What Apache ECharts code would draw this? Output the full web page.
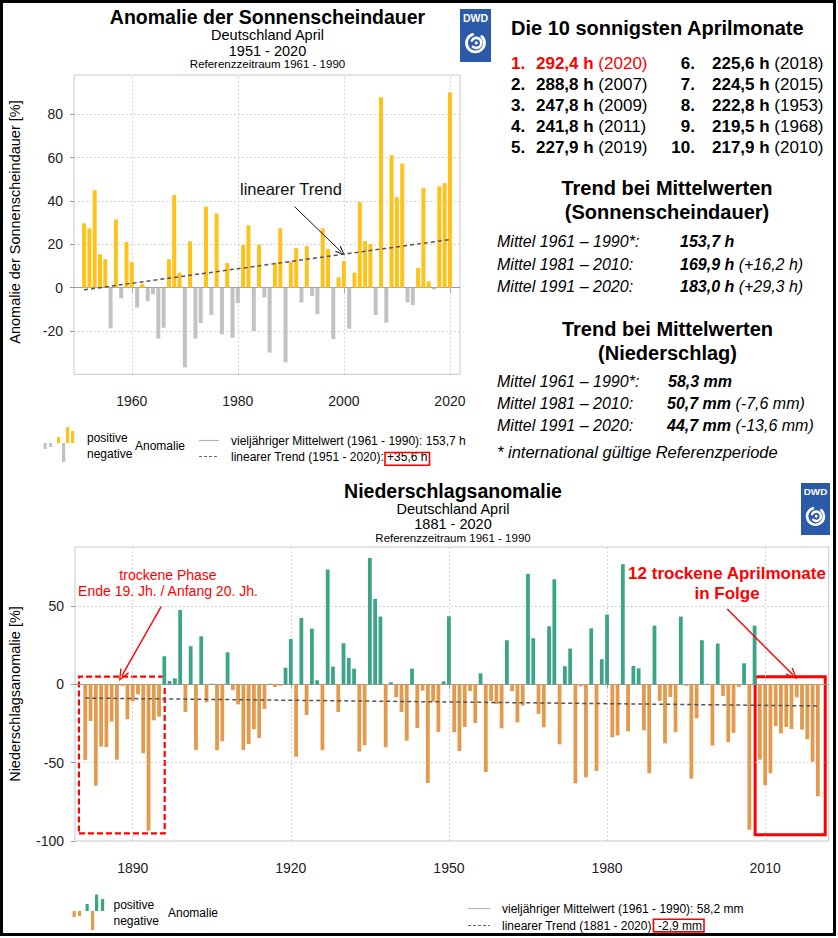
<!DOCTYPE html>
<html><head><meta charset="utf-8">
<script src="https://cdn.jsdelivr.net/npm/echarts@6/dist/echarts.min.js"></script>
<style>html,body{margin:0;padding:0;background:#fff}#c{width:838px;height:938px}</style>
</head><body><div id="c"></div>
<script>
// ---------- data ----------
const sunStartYear = 1951;
const sunAnomaly = [
  29.7, 27.4, 45.0, 15.4, 13.1, -18.8, 31.5, -4.9, 21.1, 11.8,
  -9.2, 1.7, -6.2, -3.1, -23.5, -18.5, 13.1, 42.8, 6.9, -36.8,
  21.4, -23.5, -16.3, 37.4, -12.6, 34.2, -21.5, 11.4, -23.1, -7.2,
  19.8, 28.8, -20.0, 19.8, -4.5, -30.0, 11.5, 27.4, -34.5, 12.0,
  18.2, -6.9, 19.2, -3.8, -12.3, 27.4, 17.8, -23.7, 4.8, 12.3,
  -18.9, 6.9, 39.5, 21.5, 20.2, -12.6, 87.9, -16.2, 61.2, 41.8,
  57.3, -6.8, -8.0, 9.2, 46.1, 2.9, -0.8, 46.8, 48.3, 90.2
];
const sunTrendEnds = [-1.0, 22.2];          // trend value at first / last year
const sunXTicks = [1960, 1980, 2000, 2020];
const sunYTicks = [-20, 0, 20, 40, 60, 80];

const precStartYear = 1881;
const precAnomaly = [
  -48.3, -23.4, -64.7, -39.8, -40.0, -23.8, -48.1, -1.0, -22.3, -10.9,
  -6.4, -44.0, -93.4, -23.0, -20.6, 17.9, 2.1, 3.8, 47.4, -17.7,
  24.3, -41.9, 30.6, -11.5, 0.3, -42.1, -36.4, 20.4, -3.8, -12.8,
  -41.9, -38.1, -28.7, -34.3, -15.7, 0.3, -1.7, -0.9, 10.6, 28.9,
  -46.2, 42.3, -19.6, 35.5, 2.6, -42.1, 73.2, 11.3, -17.7, 26.2,
  16.8, 10.0, -43.0, -38.9, 80.6, 54.5, 43.2, -40.2, 1.3, -8.3,
  -17.7, -36.0, 10.0, -27.9, -4.0, -63.0, -11.1, -30.4, 1.9, 43.4,
  -30.6, -42.6, -27.2, -4.3, -24.7, 7.0, -56.0, -10.6, -12.6, -28.1,
  28.1, -4.3, -24.3, -13.6, 70.4, 29.4, -18.9, -27.4, 37.0, 67.0,
  -38.3, 11.5, 22.8, -63.2, -1.3, -59.4, 35.7, -55.3, 16.0, 44.5,
  -33.8, -32.6, 76.6, -30.0, 11.7, 10.2, -29.4, -56.8, 37.4, -10.6,
  -37.7, -8.1, -30.6, 43.2, -0.9, -60.2, -21.7, 28.1, 0.3, -39.1,
  26.0, -7.4, -37.0, -31.0, -1.7, 13.4, -92.8, 37.4, -48.1, -64.5,
  -56.8, -26.6, -31.3, -27.2, -28.5, -8.3, -28.9, -35.1, -49.4, -71.5
];
const precTrendEnds = [-8.8, -13.8];
const precXTicks = [1890, 1920, 1950, 1980, 2010];
const precYTicks = [-100, -50, 0, 50];

const top10Left = [
  ['1.', '292,4 h', '(2020)'], ['2.', '288,8 h', '(2007)'], ['3.', '247,8 h', '(2009)'],
  ['4.', '241,8 h', '(2011)'], ['5.', '227,9 h', '(2019)']
];
const top10Right = [
  ['6.', '225,6 h', '(2018)'], ['7.', '224,5 h', '(2015)'], ['8.', '222,8 h', '(1953)'],
  ['9.', '219,5 h', '(1968)'], ['10.', '217,9 h', '(2010)']
];
const sunMeans = [
  ['Mittel 1961 – 1990*:', '153,7 h', ''],
  ['Mittel 1981 – 2010:', '169,9 h', ' (+16,2 h)'],
  ['Mittel 1991 – 2020:', '183,0 h', ' (+29,3 h)']
];
const precMeans = [
  ['Mittel 1961 – 1990*:', '58,3 mm', ''],
  ['Mittel 1981 – 2010:', '50,7 mm', ' (-7,6 mm)'],
  ['Mittel 1991 – 2020:', '44,7 mm', ' (-13,6 mm)']
];

// ---------- styles ----------
const FONT = "'Liberation Sans', Arial, Helvetica, sans-serif";
const YELLOW = '#FFC21A', GRAY = '#C2C2C2', GREEN = '#3DA587', ORANGE = '#E39A4C', RED = '#FF0000';
const V_ARROW = 'path://M5,0 L10,10 L8.8,10.6 L5,2.6 L1.2,10.6 L0,10 Z';
const GRIDLINE = { color: '#c6c6c6', width: 1, type: [1.5, 2.5] };
const ZEROLINE = { color: '#9a9a9a', width: 1.2, type: 'solid' };

const sunData = sunAnomaly.map((v, i) => [sunStartYear + i, v]);
const precData = precAnomaly.map((v, i) => [precStartYear + i, v]);
const sunTrend = [[sunStartYear, sunTrendEnds[0]], [sunStartYear + sunAnomaly.length - 1, sunTrendEnds[1]]];
const precTrend = [[precStartYear, precTrendEnds[0]], [precStartYear + precAnomaly.length - 1, precTrendEnds[1]]];

function gridMarks(xt, yt) {
  const out = [];
  xt.forEach(v => out.push({ xAxis: v, lineStyle: GRIDLINE }));
  yt.filter(v => v !== 0).forEach(v => out.push({ yAxis: v, lineStyle: GRIDLINE }));
  out.push({ yAxis: 0, lineStyle: ZEROLINE });
  return out;
}

function T(x, y, text, o) {
  o = o || {};
  const st = {
    text: text, fontFamily: FONT, fontSize: o.size || 14, fontWeight: o.weight || 'normal',
    fontStyle: o.style || 'normal', fill: o.color || '#000',
    align: o.align || 'left', verticalAlign: o.va || 'middle'
  };
  if (o.rich) st.rich = o.rich;
  return { type: 'text', x: x, y: y, rotation: o.rotation || 0, z: 100, style: st };
}
function R(x, y, w, h, fill, stroke, lw, dash) {
  const st = { fill: fill || 'none' };
  if (stroke) { st.stroke = stroke; st.lineWidth = lw || 1; }
  if (dash) st.lineDash = dash;
  return { type: 'rect', z: 100, shape: { x: x, y: y, width: w, height: h }, style: st };
}
function L(x1, y1, x2, y2, color, lw, dash) {
  const st = { stroke: color, lineWidth: lw };
  if (dash) st.lineDash = dash;
  return { type: 'line', z: 100, shape: { x1: x1, y1: y1, x2: x2, y2: y2 }, style: st };
}
function logo(x, y, w, h) {
  const cx = x + w / 2, cy = y + h * 0.64, s = w / 31;
  return [
    R(x, y, w, h, '#2B5BA8'),
    T(cx, y + 8.5, 'DWD', { size: 10.5 * s, weight: 'bold', color: '#fff', align: 'center' }),
    { type: 'arc', z: 101, shape: { cx: cx, cy: cy, r: 9 * s, startAngle: -0.8, endAngle: 4.4, clockwise: true },
      style: { fill: 'none', stroke: '#fff', lineWidth: 2.8 * s, lineCap: 'round' } },
    { type: 'arc', z: 101, shape: { cx: cx + 0.8 * s, cy: cy, r: 5 * s, startAngle: 3.6, endAngle: 8.6, clockwise: true },
      style: { fill: 'none', stroke: '#fff', lineWidth: 2.6 * s, lineCap: 'round' } },
    { type: 'circle', z: 101, shape: { cx: cx + 0.8 * s, cy: cy, r: 1.6 * s }, style: { fill: '#fff' } }
  ];
}

const graphics = [];
// outer frame
graphics.push(R(1.5, 1.5, 833, 933, 'none', '#000', 3));

// ----- top chart header -----
graphics.push(T(267.5, 17, 'Anomalie der Sonnenscheindauer', { size: 19.5, weight: 'bold', align: 'center' }));
graphics.push(T(267.5, 34.5, 'Deutschland April', { size: 14.5, align: 'center' }));
graphics.push(T(267.5, 50.8, '1951 - 2020', { size: 14.5, align: 'center' }));
graphics.push(T(267.5, 64, 'Referenzzeitraum 1961 - 1990', { size: 11.5, align: 'center' }));
logo(460, 9, 31, 53).forEach(g => graphics.push(g));
graphics.push(T(15, 222, 'Anomalie der Sonnenscheindauer [%]', { size: 14.5, align: 'center', rotation: Math.PI / 2 }));
graphics.push(T(240, 189, 'linearer Trend', { size: 16.5, color: '#111' }));

// top legend
[[43.5, 443, 3.2, 6, GRAY], [49, 443, 3.2, 4, GRAY], [62, 443, 3.2, 19, GRAY]].forEach(b => graphics.push(R(b[0], b[1], b[2], b[3], b[4])));
[[57, 437, 3.2, 6, YELLOW], [66, 427, 3.2, 16, YELLOW], [71, 431, 3.2, 12, YELLOW]].forEach(b => graphics.push(R(b[0], b[1], b[2], b[3], b[4])));
graphics.push(T(87, 437.5, 'positive', { size: 12 }));
graphics.push(T(87, 454, 'negative', { size: 12 }));
graphics.push(T(135, 446, 'Anomalie', { size: 12 }));
graphics.push(L(199, 440.5, 219, 440.5, '#b5b5b5', 1.2));
graphics.push(L(199, 456.5, 219, 456.5, '#666', 1.2, [3, 2]));
graphics.push(T(231, 440.5, 'vieljähriger Mittelwert (1961 - 1990): 153,7 h', { size: 12 }));
graphics.push(T(231, 457, 'linearer Trend (1951 - 2020): +35,6 h', { size: 12 }));
graphics.push(R(385, 452.5, 44.5, 12.8, 'none', RED, 1.6));

// ----- right text panel -----
graphics.push(T(511, 27.5, 'Die 10 sonnigsten Aprilmonate', { size: 20, weight: 'bold' }));
top10Left.forEach((r, i) => {
  const c = i === 0 ? RED : '#000';
  const rich = { v: { fontFamily: FONT, fontSize: 17, fontWeight: 'bold', fill: c } };
  graphics.push(T(511, 63 + i * 21, r[0], { size: 17, weight: 'bold', color: c }));
  graphics.push(T(536, 63 + i * 21, '{v|' + r[1] + '} ' + r[2], { size: 17, color: c, rich: rich }));
});
top10Right.forEach((r, i) => {
  const rich = { v: { fontFamily: FONT, fontSize: 17, fontWeight: 'bold', fill: '#000' } };
  graphics.push(T(695, 63 + i * 21, r[0], { size: 17, weight: 'bold', align: 'right' }));
  graphics.push(T(712, 63 + i * 21, '{v|' + r[1] + '} ' + r[2], { size: 17, rich: rich }));
});
graphics.push(T(667, 187.5, 'Trend bei Mittelwerten', { size: 20, weight: 'bold', align: 'center' }));
graphics.push(T(667, 211.8, '(Sonnenscheindauer)', { size: 20, weight: 'bold', align: 'center' }));
const meanRich = { b: { fontFamily: FONT, fontSize: 16, fontWeight: 'bold', fontStyle: 'italic', fill: '#000' } };
sunMeans.forEach((m, i) => {
  const y = 241.8 + i * 22.2;
  graphics.push(T(497, y, m[0], { size: 16, style: 'italic' }));
  graphics.push(T(680, y, '{b|' + m[1] + '}' + m[2], { size: 16, style: 'italic', rich: meanRich }));
});
graphics.push(T(667.5, 328.5, 'Trend bei Mittelwerten', { size: 20, weight: 'bold', align: 'center' }));
graphics.push(T(667.5, 352.8, '(Niederschlag)', { size: 20, weight: 'bold', align: 'center' }));
precMeans.forEach((m, i) => {
  const y = 381.8 + i * 21.7;
  graphics.push(T(497, y, m[0], { size: 16, style: 'italic' }));
  graphics.push(T(i === 0 ? 668 : 667, y, '{b|' + m[1] + '}' + m[2], { size: 16, style: 'italic', rich: meanRich }));
});
graphics.push(T(497, 451.5, '* international gültige Referenzperiode', { size: 16.5, style: 'italic' }));

// ----- bottom chart header -----
graphics.push(T(453, 491, 'Niederschlagsanomalie', { size: 19.5, weight: 'bold', align: 'center' }));
graphics.push(T(453, 508.5, 'Deutschland April', { size: 14.5, align: 'center' }));
graphics.push(T(453, 523.5, '1881 - 2020', { size: 14.5, align: 'center' }));
graphics.push(T(453, 537.5, 'Referenzzeitraum 1961 - 1990', { size: 11.5, align: 'center' }));
logo(801, 483, 29, 52).forEach(g => graphics.push(g));
graphics.push(T(15, 694, 'Niederschlagsanomalie [%]', { size: 14.5, align: 'center', rotation: Math.PI / 2 }));
graphics.push(T(168, 575, 'trockene Phase', { size: 14, color: RED, align: 'center' }));
graphics.push(T(168, 591, 'Ende 19. Jh. / Anfang 20. Jh.', { size: 14, color: RED, align: 'center' }));
graphics.push(T(727, 573, '12 trockene Aprilmonate', { size: 17, weight: 'bold', color: RED, align: 'center' }));
graphics.push(T(727, 593.5, 'in Folge', { size: 17, weight: 'bold', color: RED, align: 'center' }));

// bottom legend
[[72.5, 911, 3.2, 6, ORANGE], [78, 911, 3.2, 5, ORANGE], [91, 911, 3.2, 19, ORANGE]].forEach(b => graphics.push(R(b[0], b[1], b[2], b[3], b[4])));
[[85.5, 904, 3.2, 7, GREEN], [95, 894.5, 3.2, 16.5, GREEN], [101, 899, 3.2, 12, GREEN]].forEach(b => graphics.push(R(b[0], b[1], b[2], b[3], b[4])));
graphics.push(T(113.5, 905, 'positive', { size: 12 }));
graphics.push(T(113.5, 921, 'negative', { size: 12 }));
graphics.push(T(168, 912.5, 'Anomalie', { size: 12 }));
graphics.push(L(468, 908.5, 490, 908.5, '#b5b5b5', 1.2));
graphics.push(L(468, 925.5, 490, 925.5, '#666', 1.2, [3, 2]));
graphics.push(T(502, 908.5, 'vieljähriger Mittelwert (1961 - 1990): 58,2 mm', { size: 12 }));
graphics.push(T(502, 925.5, 'linearer Trend (1881 - 2020): -2,9 mm', { size: 12 }));
graphics.push(R(653.5, 919.3, 50.5, 12.6, 'none', RED, 1.6));

// ---------- chart ----------
function xAxisCfg(gi, min, max, ticks) {
  return {
    type: 'value', gridIndex: gi, min: min, max: max,
    axisLine: { show: false },
    axisTick: { show: true, customValues: ticks, length: 5, lineStyle: { color: '#999' } },
    axisLabel: { customValues: ticks, fontSize: 14, fontFamily: FONT, color: '#222', margin: 20,
      formatter: v => String(v) },
    splitLine: { show: false }
  };
}
function yAxisCfg(gi, min, max, interval, ticks) {
  return {
    type: 'value', gridIndex: gi, min: min, max: max, interval: interval,
    axisLine: { show: false },
    axisTick: { show: true, customValues: ticks, length: 4, lineStyle: { color: '#999' } },
    axisLabel: { customValues: ticks, fontSize: 14, fontFamily: FONT, color: '#222', margin: 11,
      formatter: v => String(v) },
    splitLine: { show: false }
  };
}

const option = {
  animation: false,
  backgroundColor: '#fff',
  grid: [
    { left: 74, top: 75, width: 386, height: 299.3, show: true, borderColor: '#c8c8c8', borderWidth: 1, backgroundColor: 'transparent' },
    { left: 75, top: 547, width: 753.7, height: 294, show: true, borderColor: '#c8c8c8', borderWidth: 1, backgroundColor: 'transparent' }
  ],
  xAxis: [
    xAxisCfg(0, 1949.1, 2021.9, sunXTicks),
    xAxisCfg(1, 1879.05, 2022.06, precXTicks)
  ],
  yAxis: [
    yAxisCfg(0, -40, 98.2, 20, sunYTicks),
    yAxisCfg(1, -100, 87.6, 50, precYTicks)
  ],
  series: [
    {
      type: 'bar', xAxisIndex: 0, yAxisIndex: 0, data: sunData, barWidth: 4,
      itemStyle: { color: p => (p.value[1] >= 0 ? YELLOW : GRAY) },
      markLine: { silent: true, symbol: 'none', label: { show: false }, z: 1,
        data: gridMarks(sunXTicks, sunYTicks) }
    },
    {
      type: 'line', xAxisIndex: 0, yAxisIndex: 0, data: sunTrend, showSymbol: false, symbol: 'none', z: 5,
      lineStyle: { color: '#555', width: 1.5, type: [4, 3] },
      markLine: { silent: true, symbol: ['none', V_ARROW], symbolSize: [8, 10], label: { show: false },
        lineStyle: { color: '#111', width: 1, type: 'solid' },
        data: [[{ coord: [1990.7, 37.4] }, { coord: [1999.5, 16.5] }]] }
    },
    {
      type: 'bar', xAxisIndex: 1, yAxisIndex: 1, data: precData, barWidth: 3.8,
      itemStyle: { color: p => (p.value[1] >= 0 ? GREEN : ORANGE) },
      markLine: { silent: true, symbol: 'none', label: { show: false }, z: 1,
        data: gridMarks(precXTicks, precYTicks.filter(v => v > -100)) },
      markArea: { silent: true, label: { show: false },
        data: [
          [{ coord: [1879.8, 4.85], itemStyle: { color: 'rgba(0,0,0,0)', borderColor: RED, borderWidth: 2.2, borderType: [6, 3] } },
           { coord: [1896.07, -95.1] }],
          [{ coord: [2008.1, 4.85], itemStyle: { color: 'rgba(0,0,0,0)', borderColor: RED, borderWidth: 3, borderType: 'solid' } },
           { coord: [2021.4, -96.0] }]
        ] }
    },
    {
      type: 'line', xAxisIndex: 1, yAxisIndex: 1, data: precTrend, showSymbol: false, symbol: 'none', z: 5,
      lineStyle: { color: '#555', width: 1.5, type: [4, 3] },
      markLine: { silent: true, symbol: ['none', V_ARROW], symbolSize: [10, 12], label: { show: false },
        lineStyle: { color: RED, width: 1.4, type: 'solid' },
        data: [
          [{ coord: [1895.4, 49.5] }, { coord: [1887.96, 5.5] }],
          [{ coord: [2002.8, 48.0] }, { coord: [2015.3, 5.9] }]
        ] }
    }
  ],
  graphic: { elements: graphics }
};

const chart = echarts.init(document.getElementById('c'), null, { renderer: 'svg', width: 838, height: 938 });
chart.setOption(option);
</script>
</body></html>
